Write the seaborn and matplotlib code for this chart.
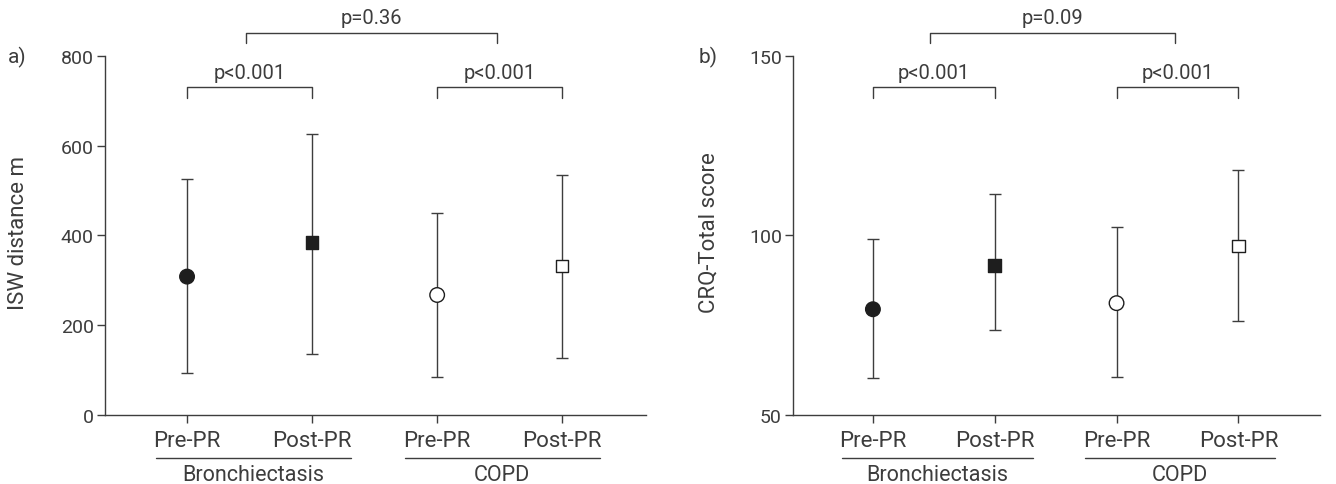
import numpy as np
import pandas as pd
import matplotlib
matplotlib.use('Agg')
import matplotlib.pyplot as plt
import seaborn as sns

# valores (media e limites da barra)
labels = ['Pre-PR', 'Post-PR', 'Pre-PR', 'Post-PR']
groups = ['Bronchiectasis', 'COPD']
kinds = ['bx_pre', 'bx_post', 'copd_pre', 'copd_post']

isw_mean = [308, 384, 267, 331]
isw_low = [93, 136, 84, 126]
isw_high = [525, 626, 450, 535]

crq_mean = [79.4, 91.5, 81.1, 97.1]
crq_low = [60.2, 73.5, 60.4, 76.1]
crq_high = [99.0, 111.4, 102.2, 118.3]

p_isw = ['p<0.001', 'p<0.001', 'p=0.36']
p_crq = ['p<0.001', 'p<0.001', 'p=0.09']

ink = '#3d3d3d'
fill = '#1e1e1e'

sns.set_style('ticks')
plt.rcParams['font.family'] = ['Roboto', 'DejaVu Sans']
plt.rcParams['font.size'] = 14


def painel(ax, mean, low, high, ylim, yticks, ylabel, letra, pvals):
    df = pd.DataFrame({'x': np.arange(len(mean)), 'y': mean, 'kind': kinds})
    ax.errorbar(df['x'], df['y'],
                yerr=[np.array(mean) - np.array(low), np.array(high) - np.array(mean)],
                fmt='none', ecolor=ink, elinewidth=1.0, capsize=4.5, capthick=1.0, zorder=1)
    sns.scatterplot(data=df, x='x', y='y', hue='kind', style='kind', size='kind',
                    palette={'bx_pre': fill, 'bx_post': fill, 'copd_pre': 'white', 'copd_post': 'white'},
                    markers={'bx_pre': 'o', 'bx_post': 's', 'copd_pre': 'o', 'copd_post': 's'},
                    sizes={'bx_pre': 110, 'bx_post': 85, 'copd_pre': 110, 'copd_post': 80},
                    edgecolor=fill, linewidth=1.0, legend=False, ax=ax, zorder=3)
    ax.set_xlim(-0.656, 3.67)
    ax.set_ylim(*ylim)
    ax.set_yticks(yticks)
    ax.set_xticks(np.arange(len(labels)))
    ax.set_xticklabels(labels, fontsize=16)
    ax.set_xlabel('')
    ax.set_ylabel(ylabel, color=ink, fontsize=16)
    ax.yaxis.set_label_coords(-0.14, 0.51)
    sns.despine(ax=ax)
    for s in ['left', 'bottom']:
        ax.spines[s].set_color(ink)
        ax.spines[s].set_linewidth(1.0)
    ax.tick_params(colors=ink, length=6, width=1.0)
    ax.tick_params(axis='x', pad=5, labelsize=16)
    ax.tick_params(axis='y', pad=2, labelsize=14)

    tr = ax.get_xaxis_transform()
    # linhas dos grupos
    for g, (a, b) in zip(groups, [(-0.25, 1.31), (1.74, 3.30)]):
        ax.plot([a, b], [-0.121, -0.121], transform=tr, color=ink, lw=1.0, clip_on=False)
        ax.text((a + b) / 2, -0.166, g, transform=tr, ha='center', va='center', color=ink, fontsize=15.5)
    # colchetes
    for (x0, x1, bot, top, ty), p in zip([(0, 1, 0.883, 0.913, 0.955), (2, 3, 0.883, 0.913, 0.955),
                                          (0.47, 2.48, 1.036, 1.064, 1.108)], pvals):
        ax.plot([x0, x0, x1, x1], [bot, top, top, bot], transform=tr, color=ink, lw=1.0, clip_on=False)
        ax.text((x0 + x1) / 2, ty, p, transform=tr, ha='center', va='center', color=ink, fontsize=14.5)
    ax.text(-0.18, 1.0, letra, transform=ax.transAxes, ha='left', va='center', color=ink, fontsize=15)


fig = plt.figure(figsize=(13.36, 4.85), dpi=100)
ax1 = fig.add_axes([105 / 1336, 69.3 / 485, 541 / 1336, 358.7 / 485])
ax2 = fig.add_axes([793 / 1336, 69.3 / 485, 527 / 1336, 358.7 / 485])

painel(ax1, isw_mean, isw_low, isw_high, (0, 800), [0, 200, 400, 600, 800], 'ISW distance m', 'a)', p_isw)
painel(ax2, crq_mean, crq_low, crq_high, (50, 150), [50, 100, 150], 'CRQ-Total score', 'b)', p_crq)

fig.savefig('out.png', dpi=100)
